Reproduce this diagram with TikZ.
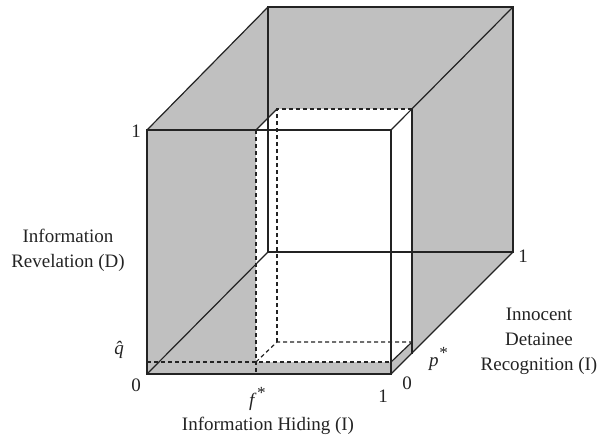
\documentclass[tikz,border=0pt]{standalone}
\usepackage{fontspec}
\setmainfont{Liberation Serif}
\definecolor{facegray}{RGB}{192,192,192}
\definecolor{edgeink}{RGB}{35,35,35}
\newcommand{\starsup}{\raisebox{0.38em}{\fontsize{17}{17}\selectfont *}}
\begin{document}
\begin{tikzpicture}[x=1pt,y=-1pt,
  edge/.style={line width=1.2pt, draw=edgeink},
  hidden/.style={edge, dash pattern=on 4pt off 3pt},
  lbl/.style={font=\fontsize{19}{25}\selectfont, inner sep=0pt, text=edgeink},
  axis/.style={lbl, align=center}]
\useasboundingbox (0,0) rectangle (603,445);

% outer cube: front face A B C D, back face E F G H
\coordinate (A) at (147,374);
\coordinate (B) at (391,374);
\coordinate (C) at (391,130);
\coordinate (D) at (147,130);
\coordinate (E) at (268,252);
\coordinate (F) at (513,252);
\coordinate (G) at (513,7);
\coordinate (H) at (268,7);

% inner box [f*,1] x [q,1] x [0,p*]
\coordinate (W1) at (256,130);
\coordinate (W2) at (256,362);
\coordinate (W3) at (391,362);
\coordinate (W4) at (412,342);
\coordinate (W5) at (412,109);
\coordinate (W6) at (277,109);
\coordinate (W7) at (277,342);
\coordinate (Fb) at (256,374);
\coordinate (Ql) at (147,362);
\coordinate (Pb) at (412,354);

% shaded faces
\fill[facegray] (A) -- (D) -- (H) -- (G) -- (F) -- (B) -- cycle;
% the inner box is left white
\fill[white] (W2) -- (W1) -- (W6) -- (W5) -- (W4) -- (W3) -- cycle;

% hidden lines
\draw[hidden] (W1) -- (Fb);
\draw[hidden] (Ql) -- (W3);
\draw[hidden] (W2) -- (W7) -- (W4);
\draw[hidden] (W7) -- (W6) -- (W5);

% cube edges
\draw[edge] (A) rectangle (C);
\draw[edge] (E) rectangle (G);
\draw[edge] (D) -- (H);
\draw[edge] (C) -- (G);
\draw[edge] (B) -- (F);
\draw[edge] (A) -- (E);

% inner box edges
\draw[edge] (W1) -- (W6);
\draw[edge] (W5) -- (Pb);
\draw[edge] (W3) -- (W4);

% labels
\node[lbl] (one-v) at (136,131) {1};
\node[lbl] (zero-o) at (136,385) {0};
\node[lbl] (qhat) at (119,350) {\itshape\^{q}};
\node[lbl] (fstar) at (257,399) {\itshape f\/\starsup};
\node[lbl] (one-h) at (383,396) {1};
\node[lbl] (zero-d) at (407,383) {0};
\node[lbl] (pstar) at (438,359) {\itshape p\starsup};
\node[lbl] (one-d) at (523,256) {1};
\node[axis] (ylab) at (68,250) {Information\\Revelation (D)};
\node[axis] (xlab) at (268,426) {Information Hiding (I)};
\node[axis] (zlab) at (539,341) {Innocent\\Detainee\\Recognition (I)};
\end{tikzpicture}
\end{document}
